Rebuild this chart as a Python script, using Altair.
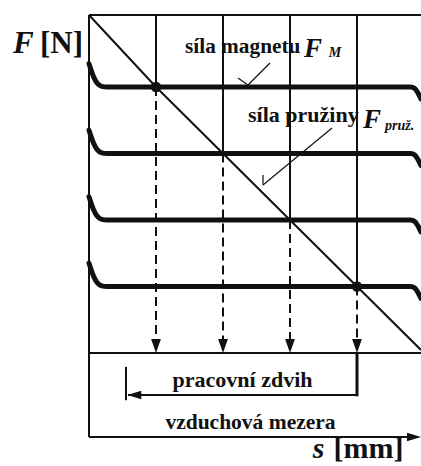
import altair as alt
import pandas as pd

# --- diagram values (s in stroke units, F in force units) ---
stroke_s = [1, 2, 3, 4]            # operating points along the air gap
force_levels = [4, 3, 2, 1]        # magnet force characteristic levels
s_max = 4.955                      # right edge of the drawing
F_top = 5.083                      # top border of the diagram
F_axis = -1.263                    # level of the "vzduchová mezera" arrow
F_stroke = -0.632                  # level of the "pracovní zdvih" arrow
s_stroke_start = 0.552             # left end of the working stroke

# spring characteristic (straight, falling)
spring_s = [0, 1, 4, s_max]
spring_F = [5.083, 4, 1, 0.045]

# shape of each magnet-force curve relative to its level
curve_ds = [0, 0.03, 0.07, 0.12, 0.19, 0.27, 4.80, 4.86, 4.91, s_max]
curve_dF = [0.35, 0.26, 0.15, 0.06, 0.01, 0, 0, -0.02, -0.09, -0.18]

# labels
label_text = ["F", "[N]", "síla magnetu", "F", "M", "síla pružiny", "F", "pruž.",
              "pracovní zdvih", "vzduchová mezera", "s", "[mm]"]
label_s = [-1.134, -0.731, 1.433, 3.21, 3.58, 2.373, 4.09, 4.418,
           2.291, 2.41, 3.34, 3.65]
label_F = [4.511, 4.511, 4.511, 4.451, 4.451, 3.474, 3.383, 3.353,
           -0.511, -1.14, -1.585, -1.585]
label_size = [31, 31, 21.3, 27, 14, 22, 27, 14, 22, 21.5, 30, 30]
label_italic = [True, False, False, True, True, False, True, True,
                False, False, True, False]
label_align = ["left", "left", "left", "left", "left", "left", "left", "left",
               "center", "center", "left", "left"]

# leader lines from the labels to the curves: (s1, F1, s2, F2)
leaders = [
    (2.701, 4.361, 2.373, 4.03),
    (2.224, 4.135, 2.373, 4.03),
    (3.627, 3.383, 2.597, 2.526),
    (2.597, 2.677, 2.597, 2.526),
]

INK = "#111111"
FONT = "'Liberation Serif', 'Times New Roman', 'DejaVu Serif', serif"

xs = alt.Scale(domain=[-1.32836, 4.95522], nice=False, zero=False)
ys = alt.Scale(domain=[-1.6992, 5.3083], nice=False, zero=False)
X = lambda f: alt.X(f, type="quantitative", scale=xs, axis=None)
Y = lambda f: alt.Y(f, type="quantitative", scale=ys, axis=None)


def segments(rows, width, dash=None, cap="butt"):
    df = pd.DataFrame(rows, columns=["s1", "F1", "s2", "F2"])
    kw = dict(color=INK, strokeWidth=width, strokeCap=cap)
    if dash:
        kw["strokeDash"] = dash
    return alt.Chart(df).mark_rule(**kw).encode(
        x=X("s1"), y=Y("F1"), x2="s2", y2="F2")


# frame: top border, left axis, bottom border
frame = segments([
    (0, F_top, s_max, F_top),
    (0, F_top, 0, F_axis),
    (0, 0, s_max, 0),
], 2)

# solid verticals above each operating point, dashed below it
solid_v = segments([(s, F_top, s, 5 - s) for s in stroke_s], 2)
dashed_v = segments([(s, 5 - s, s, 0.2) for s in stroke_s], 2, dash=[9, 5])

# working stroke and air gap dimension lines
dims = segments([
    (s_stroke_start + 0.03, F_stroke, stroke_s[-1], F_stroke),
    (s_stroke_start, -0.21, s_stroke_start, -0.71),
    (0, F_axis, s_max - 0.1, F_axis),
], 2)
stroke_end = segments([(stroke_s[-1], 0, stroke_s[-1], F_stroke - 0.02)], 3)

leader_lines = segments(leaders, 1.2)

# spring line
spring = alt.Chart(pd.DataFrame({"s": spring_s, "F": spring_F})).mark_line(
    color=INK, strokeWidth=2).encode(x=X("s"), y=Y("F"))

# magnet force curves
rows = []
for k, lvl in enumerate(force_levels):
    for i, (ds, dF) in enumerate(zip(curve_ds, curve_dF)):
        rows.append({"curve": k, "i": i, "s": ds, "F": lvl + dF})
magnet = alt.Chart(pd.DataFrame(rows)).mark_line(
    color=INK, strokeWidth=5, interpolate="monotone", strokeCap="round",
    strokeJoin="round").encode(x=X("s"), y=Y("F"), detail="curve:N", order="i:Q")

# operating point dots
dots = alt.Chart(pd.DataFrame({"s": [stroke_s[0], stroke_s[-1]],
                               "F": [force_levels[0], force_levels[-1]]})).mark_point(
    filled=True, color=INK, size=110, opacity=1).encode(x=X("s"), y=Y("F"))

# arrowheads
down_heads = alt.Chart(pd.DataFrame({"s": stroke_s, "F": [0] * 4})).mark_point(
    shape="M-0.7,-1L0.7,-1L0,1Z", size=196, filled=True, color=INK, opacity=1,
    yOffset=-7).encode(x=X("s"), y=Y("F"))
left_head = alt.Chart(pd.DataFrame({"s": [s_stroke_start + 0.02], "F": [F_stroke]})).mark_point(
    shape="M-1,0L1,-0.6L1,0.6Z", size=196, filled=True, color=INK, opacity=1,
    xOffset=7).encode(x=X("s"), y=Y("F"))
right_head = alt.Chart(pd.DataFrame({"s": [s_max], "F": [F_axis]})).mark_point(
    shape="M1,0L-1,-0.6L-1,0.6Z", size=196, filled=True, color=INK, opacity=1,
    xOffset=-7).encode(x=X("s"), y=Y("F"))

# text labels
texts = []
for t, s, f, size, it, al in zip(label_text, label_s, label_F, label_size,
                                 label_italic, label_align):
    texts.append(alt.Chart(pd.DataFrame({"s": [s], "F": [f], "t": [t]})).mark_text(
        font=FONT, fontSize=size, fontWeight="bold",
        fontStyle="italic" if it else "normal", align=al, baseline="alphabetic",
        color=INK).encode(x=X("s"), y=Y("F"), text="t:N"))

chart = alt.layer(
    frame, solid_v, dashed_v, dims, stroke_end, leader_lines, spring, magnet,
    dots, down_heads, left_head, right_head, *texts
).properties(
    width=421, height=466, autosize=alt.AutoSizeParams(type="none"),
    padding=0, background="white"
).configure_view(stroke=None)

chart.save("out.html", embed_options={"renderer": "svg", "actions": False})
